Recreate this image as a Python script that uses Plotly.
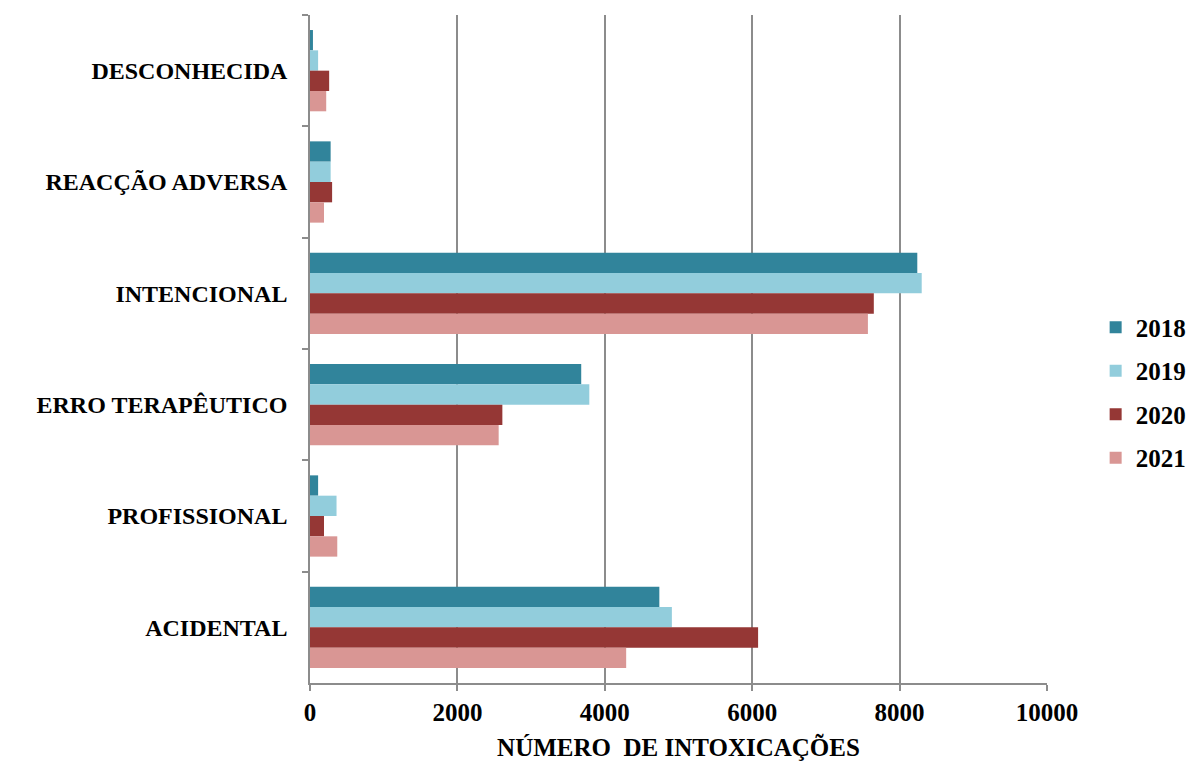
import plotly.graph_objects as go

categories = ["DESCONHECIDA", "REACÇÃO ADVERSA", "INTENCIONAL",
              "ERRO TERAPÊUTICO", "PROFISSIONAL", "ACIDENTAL"]
years = ["2018", "2019", "2020", "2021"]
v2018 = [40, 280, 8240, 3680, 110, 4740]
v2019 = [110, 280, 8300, 3790, 360, 4910]
v2020 = [260, 300, 7650, 2610, 190, 6080]
v2021 = [220, 190, 7570, 2560, 370, 4290]
colors = ["#31849B", "#92CDDC", "#953735", "#D99694"]
x_ticks = [0, 2000, 4000, 6000, 8000, 10000]

FONT = "Liberation Serif"

fig = go.Figure()
for name, vals, col in zip(years, [v2018, v2019, v2020, v2021], colors):
    fig.add_trace(go.Bar(
        y=categories, x=vals, name=name, orientation="h",
        marker=dict(color=col, line=dict(width=0)),
        legendgroup=name,
    ))

fig.update_layout(
    width=1195, height=765,
    margin=dict(l=310, r=148, t=15, b=82, autoexpand=False),
    paper_bgcolor="white", plot_bgcolor="white",
    barmode="group", bargap=0.27, bargroupgap=0,
    font=dict(family=FONT, size=24, color="black"),
    legend=dict(
        x=1.066, y=0.435, xanchor="left", yanchor="middle",
        traceorder="grouped", tracegroupgap=8,
        font=dict(family=FONT, size=25, color="black", weight="bold"),
        itemwidth=30,
    ),
    showlegend=True,
)

fig.update_xaxes(
    range=[0, 10000], tickvals=x_ticks,
    ticktext=[str(t) for t in x_ticks],
    showgrid=True, gridcolor="#8c8c8c", gridwidth=1.5,
    showline=True, linecolor="#8c8c8c", linewidth=1.5,
    ticks="outside", ticklen=6, tickcolor="#8c8c8c", tickwidth=1.5,
    tickfont=dict(family=FONT, size=25, color="black", weight="bold"),
    zeroline=False,
    title=dict(text="NÚMERO  DE INTOXICAÇÕES", standoff=14,
               font=dict(family=FONT, size=25, color="black", weight="bold")),
)
fig.update_yaxes(
    categoryorder="array", categoryarray=categories,
    autorange="reversed", tickson="boundaries",
    showline=True, linecolor="#8c8c8c", linewidth=1.5,
    ticks="outside", ticklen=6, tickcolor="#8c8c8c", tickwidth=1.5,
    ticklabelstandoff=16,
    tickfont=dict(family=FONT, size=24, color="black", weight="bold"),
    showgrid=False,
)

fig.write_html("out.html")
